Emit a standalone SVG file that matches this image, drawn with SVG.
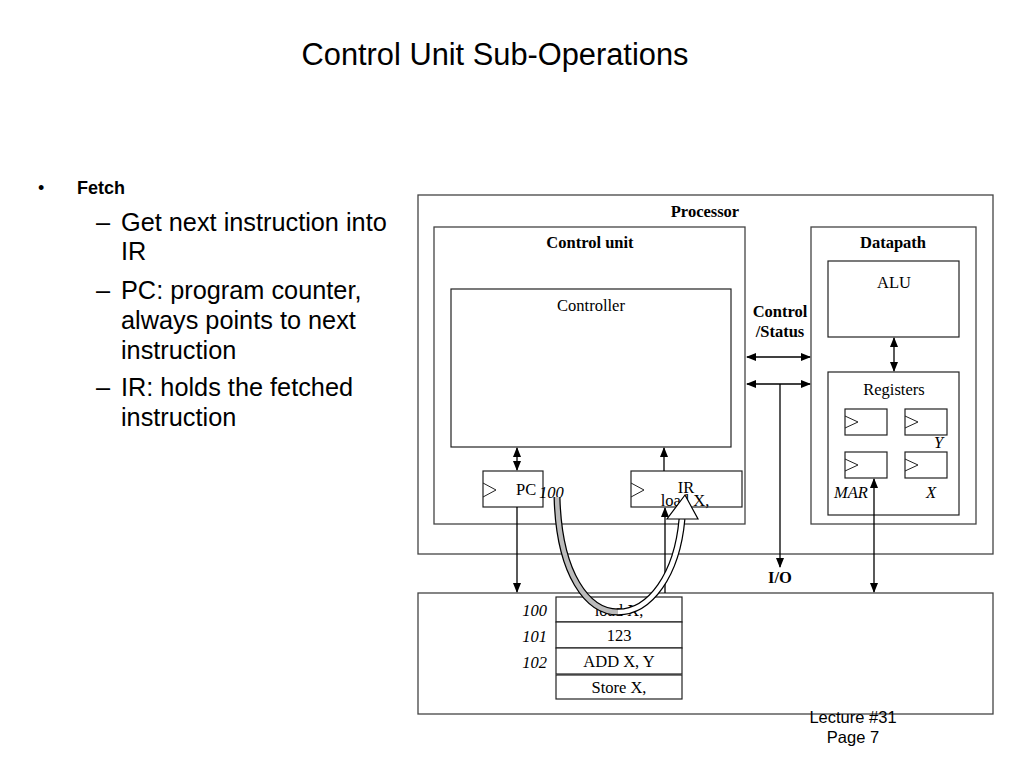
<svg xmlns="http://www.w3.org/2000/svg" width="1024" height="768" viewBox="0 0 1024 768">
<defs>
<marker id="ah" markerWidth="10" markerHeight="8" refX="9" refY="4" orient="auto-start-reverse" markerUnits="userSpaceOnUse">
<path d="M0,0 L10,4 L0,8 Z" fill="#000"/>
</marker>
<style>
.box{fill:#fff;stroke:#444;stroke-width:1.3}
.ibox{fill:#fff;stroke:#222;stroke-width:1.2}
.reg{fill:#fff;stroke:#222;stroke-width:1.2}
.clk{fill:none;stroke:#222;stroke-width:1}
.ln{stroke:#000;stroke-width:1.3;fill:none}
.tb{font-family:"Liberation Serif",serif;font-size:16.5px;font-weight:bold;fill:#000;text-anchor:middle}
.tr{font-family:"Liberation Serif",serif;font-size:16.5px;fill:#000;text-anchor:middle}
.ti{font-family:"Liberation Serif",serif;font-size:16.5px;font-style:italic;fill:#000}
.sans{font-family:"Liberation Sans",Arial,sans-serif;fill:#000}
</style>
</defs>
<rect width="1024" height="768" fill="#fff"/>
<text class="sans" x="495" y="65" font-size="30.8" text-anchor="middle">Control Unit Sub-Operations</text>
<g id="bullets" class="sans">
<text x="38" y="194" font-size="18">•</text>
<text x="77" y="194" font-size="18" font-weight="bold">Fetch</text>
<text x="96" y="231" font-size="25.3">–</text>
<text x="121" y="231" font-size="25.3">Get next instruction into</text>
<text x="121" y="260" font-size="25.3">IR</text>
<text x="96" y="299" font-size="25.3">–</text>
<text x="121" y="299" font-size="25.3">PC: program counter,</text>
<text x="121" y="329" font-size="25.3">always points to next</text>
<text x="121" y="359" font-size="25.3">instruction</text>
<text x="96" y="396" font-size="25.3">–</text>
<text x="121" y="396" font-size="25.3">IR: holds the fetched</text>
<text x="121" y="426" font-size="25.3">instruction</text>
</g>
<g id="processor">
<rect class="box" x="418" y="195" width="575" height="359"/>
<text class="tb" x="705" y="217">Processor</text>
</g>
<g id="control-unit">
<rect class="box" x="434" y="227" width="311" height="297"/>
<text class="tb" x="590" y="248">Control unit</text>
</g>
<g id="controller">
<rect class="ibox" x="451" y="289" width="280" height="158"/>
<text class="tr" x="591" y="311">Controller</text>
</g>
<g id="datapath">
<rect class="box" x="811" y="227" width="165" height="297"/>
<text class="tb" x="893" y="248">Datapath</text>
</g>
<g id="alu">
<rect class="ibox" x="828" y="261" width="131" height="76"/>
<text class="tr" x="894" y="288">ALU</text>
</g>
<g id="registers">
<rect class="ibox" x="828" y="372" width="131" height="143"/>
<text class="tr" x="894" y="395">Registers</text>
<rect class="reg" x="845" y="409" width="42" height="26"/>
<path class="clk" d="M845,416 L858,422 L845,428"/>
<rect class="reg" x="905" y="409" width="42" height="26"/>
<path class="clk" d="M905,416 L918,422 L905,428"/>
<rect class="reg" x="845" y="452" width="42" height="26"/>
<path class="clk" d="M845,459 L858,465 L845,471"/>
<rect class="reg" x="905" y="452" width="42" height="26"/>
<path class="clk" d="M905,459 L918,465 L905,471"/>
<text class="ti" x="934" y="448">Y</text>
<text class="ti" x="834" y="498">MAR</text>
<text class="ti" x="926" y="498">X</text>
</g>
<g id="pc">
<rect class="reg" x="483" y="471" width="60" height="36"/>
<path class="clk" d="M483,483 L496,490 L483,497"/>
<text class="tr" x="516" y="495" style="text-anchor:start">PC</text>
<text class="ti" x="539" y="498">100</text>
</g>
<g id="ir">
<rect class="reg" x="631" y="471" width="111" height="36"/>
<path class="clk" d="M631,483 L644,490 L631,497"/>
<text class="tr" x="686" y="493">IR</text>
<text class="tr" x="685" y="506">load X,</text>
</g>
<g id="memory">
<rect class="box" x="418" y="593" width="575" height="121"/>
<rect class="ibox" x="556" y="597" width="126" height="25"/>
<rect class="ibox" x="556" y="622" width="126" height="26"/>
<rect class="ibox" x="556" y="648" width="126" height="26"/>
<rect class="ibox" x="556" y="675" width="126" height="24" stroke-width="2"/>
<text class="tr" x="619" y="616">load X,</text>
<text class="tr" x="619" y="641">123</text>
<text class="tr" x="619" y="667">ADD X, Y</text>
<text class="tr" x="619" y="693">Store X,</text>
<text class="ti" x="547" y="616" style="text-anchor:end">100</text>
<text class="ti" x="547" y="642" style="text-anchor:end">101</text>
<text class="ti" x="547" y="668" style="text-anchor:end">102</text>
</g>
<g id="labels">
<text class="tb" x="780" y="317">Control</text>
<text class="tb" x="780" y="337">/Status</text>
<text class="tb" x="780" y="583">I/O</text>
</g>
<g id="connectors">
<line class="ln" x1="747" y1="357" x2="810" y2="357" marker-start="url(#ah)" marker-end="url(#ah)"/>
<line class="ln" x1="747" y1="384" x2="810" y2="384" marker-start="url(#ah)" marker-end="url(#ah)"/>
<line class="ln" x1="780" y1="384" x2="780" y2="567" marker-end="url(#ah)"/>
<line class="ln" x1="894" y1="338" x2="894" y2="371" marker-start="url(#ah)" marker-end="url(#ah)"/>
<line class="ln" x1="874" y1="479" x2="874" y2="592" marker-start="url(#ah)" marker-end="url(#ah)"/>
<line class="ln" x1="517" y1="448" x2="517" y2="470" marker-start="url(#ah)" marker-end="url(#ah)"/>
<line class="ln" x1="517" y1="507" x2="517" y2="592" marker-end="url(#ah)"/>
<line class="ln" x1="664" y1="471" x2="664" y2="448" marker-end="url(#ah)"/>
<line class="ln" x1="665" y1="593" x2="665" y2="508" marker-end="url(#ah)"/>
<path d="M557,497 C559,575 588,612 618,612 C650,612 677,575 682,519" fill="none" stroke="#000" stroke-width="7"/>
<path d="M557,497 C559,575 588,612 618,612" fill="none" stroke="#bbb" stroke-width="4.5"/>
<path d="M618,612 C650,612 677,575 682,519" fill="none" stroke="#fff" stroke-width="4.5"/>
<path d="M685,495 L698,519 L667,519 Z" fill="#fff" stroke="#000" stroke-width="1.2"/>
</g>
<g id="footer" class="sans">
<text x="853" y="723" font-size="16.5" text-anchor="middle">Lecture #31</text>
<text x="853" y="743" font-size="16.5" text-anchor="middle">Page 7</text>
</g>
</svg>
